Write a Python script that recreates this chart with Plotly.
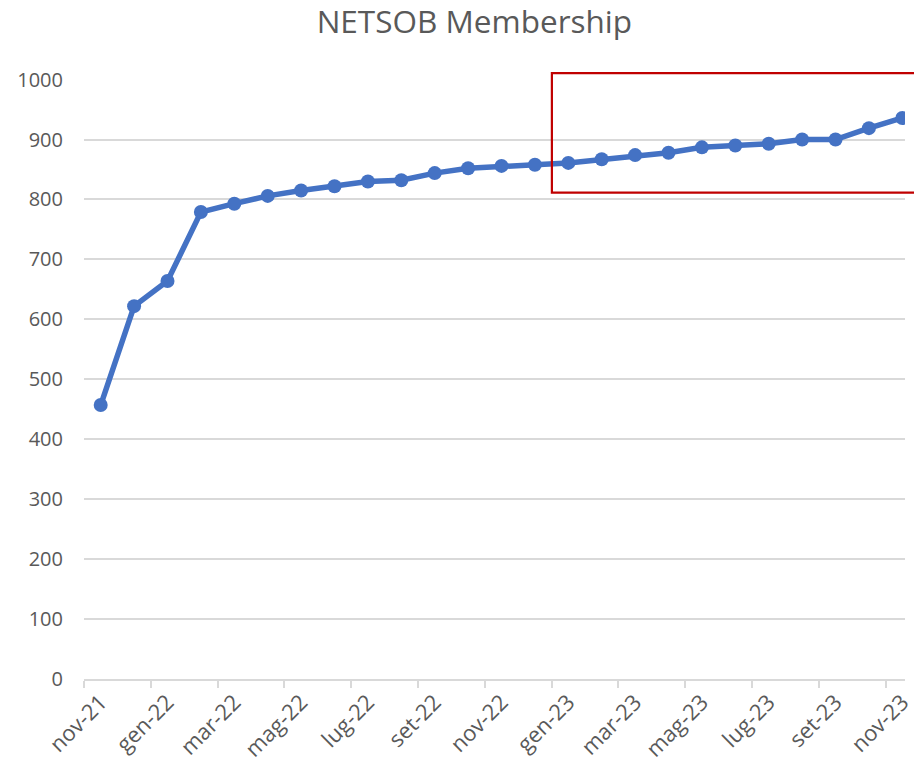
import plotly.graph_objects as go

months = ["nov-21", "dic-21", "gen-22", "feb-22", "mar-22", "apr-22", "mag-22", "giu-22",
          "lug-22", "ago-22", "set-22", "ott-22", "nov-22", "dic-22", "gen-23", "feb-23",
          "mar-23", "apr-23", "mag-23", "giu-23", "lug-23", "ago-23", "set-23", "ott-23", "nov-23"]
members = [457, 622, 664, 779, 793, 806, 815, 822, 830, 832, 844, 852, 856, 858, 861, 867,
           874, 878, 887, 890, 893, 900, 900, 919, 936]
y_ticks = [0, 100, 200, 300, 400, 500, 600, 700, 800, 900, 1000]

xpos = [i + 0.5 for i in range(len(months))]
label_pos = xpos[::2]
label_txt = months[::2]

fig = go.Figure()
fig.add_trace(go.Scatter(
    x=xpos, y=members, mode="lines+markers",
    line=dict(color="#4472C4", width=5.5),
    marker=dict(color="#4472C4", size=14),
    cliponaxis=True, showlegend=False,
))

fig.add_shape(type="rect", xref="paper", yref="paper", x0=0.5699, x1=1.05, y0=0.8105, y1=1.0098,
              line=dict(color="#C00000", width=2.2), fillcolor="rgba(0,0,0,0)", layer="above")

fig.update_layout(
    width=914, height=762,
    margin=dict(l=84, r=0, t=79, b=82),
    paper_bgcolor="white", plot_bgcolor="white",
    font=dict(family="Open Sans", color="#595959", size=19),
    title=dict(text="NETSOB Membership", x=0.519, xanchor="center", y=0.971, yanchor="middle",
               font=dict(size=31.5, color="#595959", family="Open Sans")),
    xaxis=dict(
        range=[0, 24.58], tickmode="array", tickvals=label_pos, ticktext=label_txt,
        tickangle=-45, ticks="", showgrid=False, zeroline=False, ticklabeloverflow="allow",
        showline=True, linecolor="#D9D9D9", linewidth=1.5,
        tickfont=dict(size=22, color="#595959"),
        minor=dict(tickmode="linear", tick0=0, dtick=2, ticks="outside", ticklen=7,
                   tickcolor="#D9D9D9", tickwidth=1.5, showgrid=False),
    ),
    yaxis=dict(
        range=[0, 1001], tickmode="array", tickvals=y_ticks,
        showgrid=True, gridcolor="#D9D9D9", gridwidth=1.5, zeroline=False,
        showline=False, ticks="", ticklabelstandoff=20,
        tickfont=dict(size=20, color="#595959"),
    ),
)

fig.write_html("out.html",
               config={"displayModeBar": False},
               post_script="document.body.style.margin='0';document.body.style.overflow='hidden';")
